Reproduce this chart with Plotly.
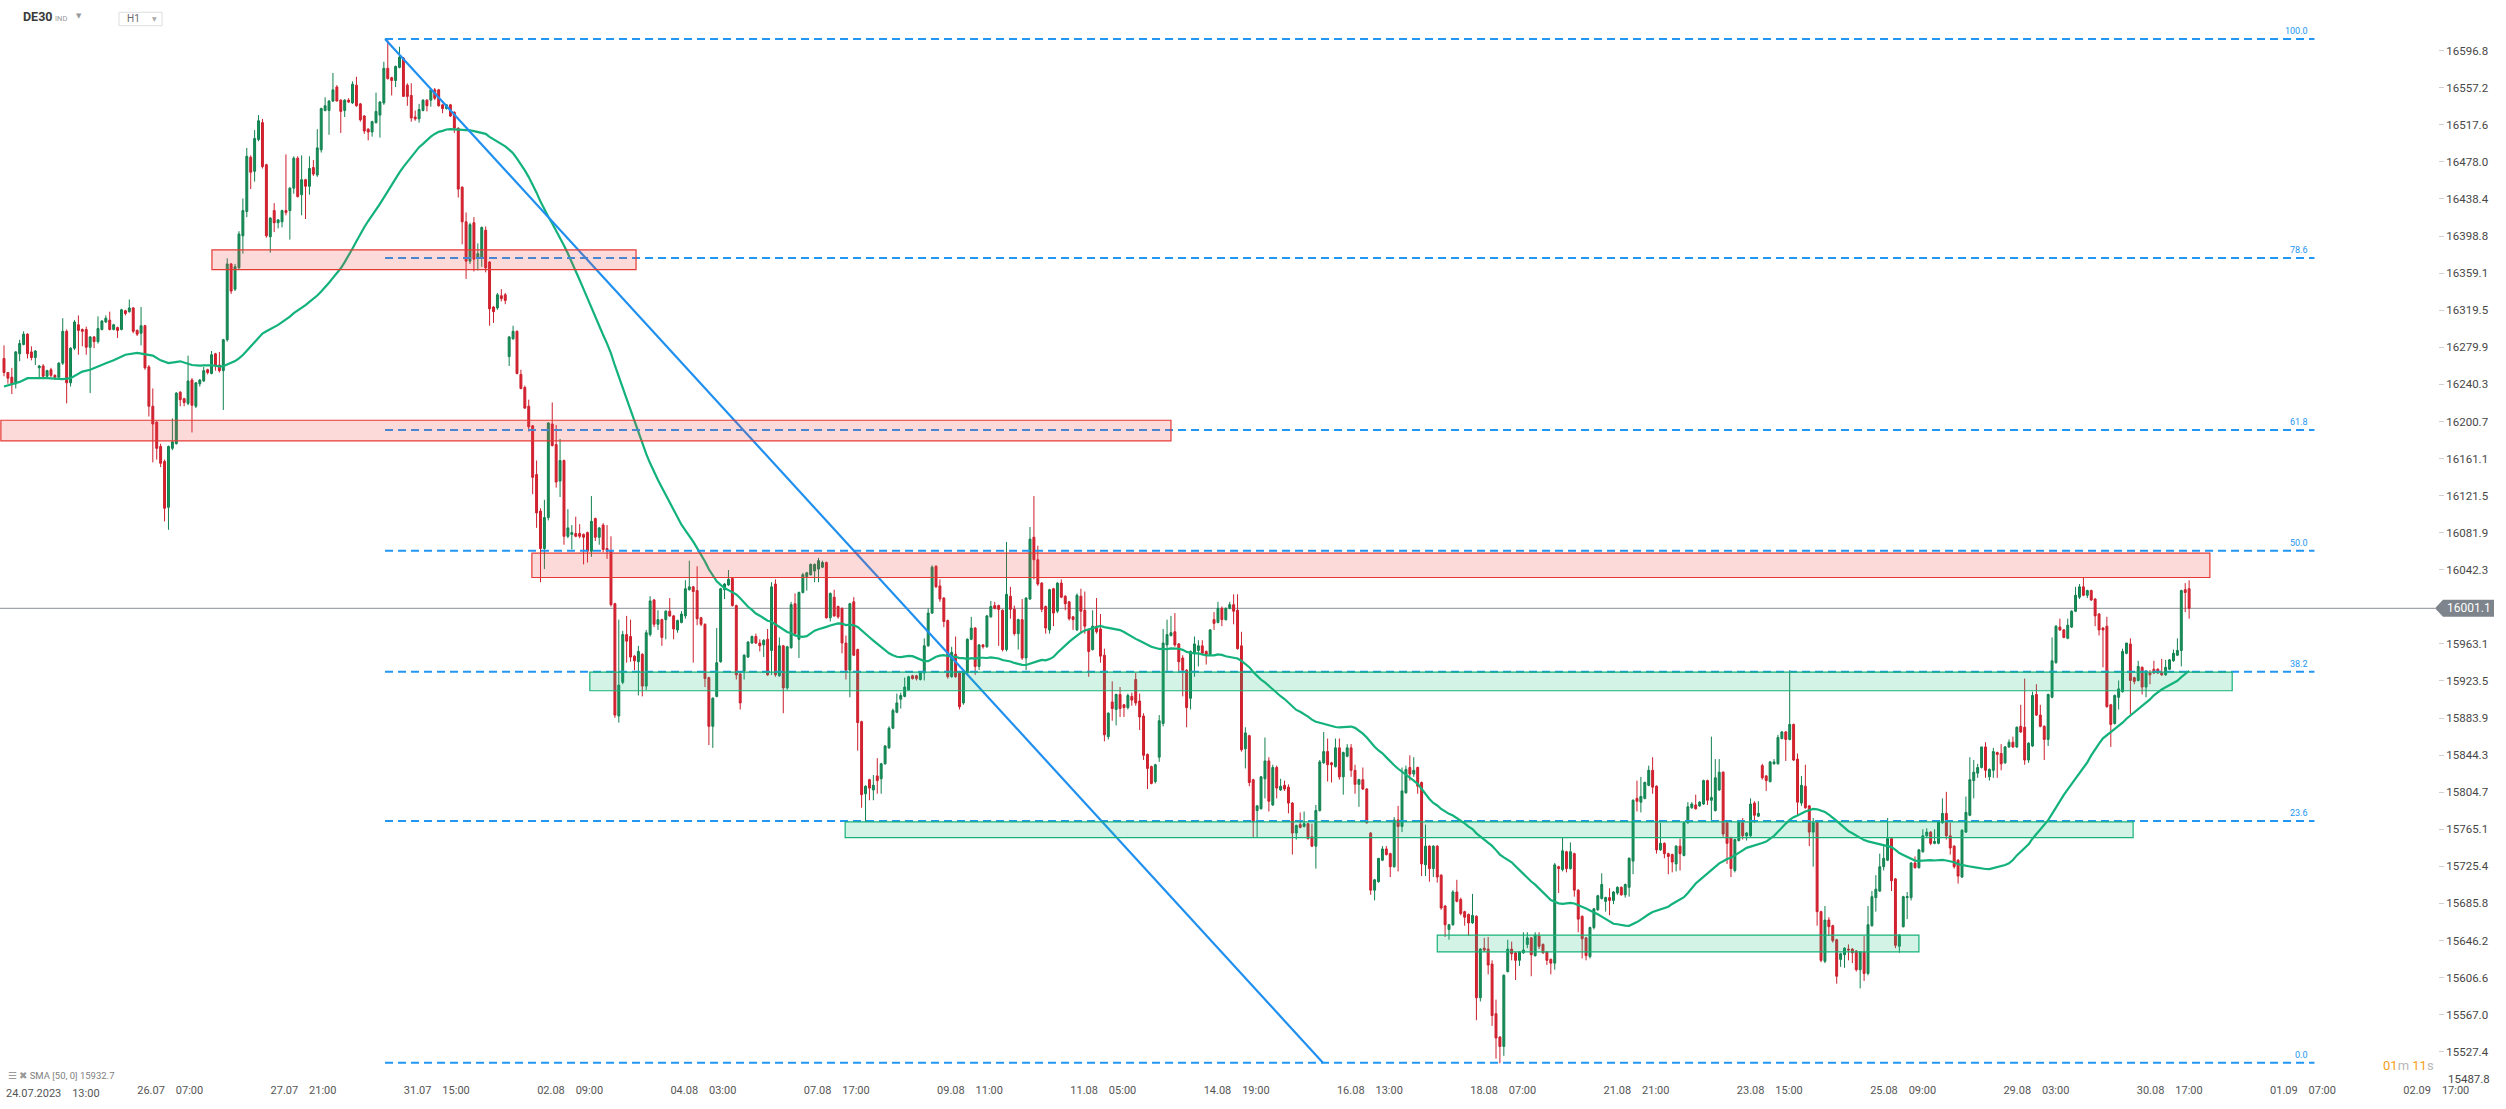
import pandas as pd
import plotly.graph_objects as go

# ---------------- data ----------------
opens = [
16268,16253,16248,16241,16273,16283,16294,16275,16269,16258,
16260,16249,16256,16250,16248,16263,16297,16242,16279,16304,
16299,16299,16280,16291,16286,16299,16307,16309,16299,16301,
16299,16319,16318,16322,16298,16295,16303,16259,16217,16200,
16174,16158,16109,16172,16177,16232,16225,16220,16245,16217,
16241,16244,16256,16252,16273,16261,16255,16288,16369,16342,
16365,16399,16425,16483,16468,16502,16520,16475,16398,16426,
16413,16414,16426,16426,16450,16482,16443,16459,16452,16472,
16464,16491,16533,16533,16543,16558,16544,16533,16544,16541,
16560,16540,16527,16513,16510,16520,16528,16541,16578,16568,
16565,16579,16589,16560,16549,16526,16524,16533,16544,16544,
16555,16555,16539,16535,16539,16531,16514,16451,16414,16372,
16413,16375,16376,16405,16371,16323,16322,16335,16336,16270,
16289,16297,16251,16237,16217,16196,16144,16105,16065,16098,
16198,16176,16137,16159,16078,16080,16081,16081,16080,16082,
16062,16097,16077,16090,16065,16062,16006,15886,15922,15973,
15971,15950,15944,15952,15918,15973,16010,15984,15989,15989,
15998,15993,15978,15986,15993,16021,16024,16020,15991,15984,
15927,15875,15907,15944,16021,16026,16033,16004,15931,15934,
15949,15964,15971,15964,15962,15968,15956,16027,15929,15961,
15916,15959,16006,15968,16018,16035,16037,16041,16043,16045,
16050,15991,16013,16003,16001,15964,15935,16008,15957,15880,
15803,15818,15807,15822,15819,15835,15852,15873,15890,15904,
15907,15914,15929,15929,15925,15932,15961,15996,16046,16025,
16012,15988,15928,15952,15933,15900,15932,15968,15980,15939,
15962,15960,15992,16004,16004,15999,15957,16014,16000,15974,
15989,15948,16011,16077,16053,16028,16003,15978,16022,15998,
16028,16014,16008,15992,15978,16014,15999,15978,15957,15982,
15979,15951,15864,15901,15893,15909,15898,15895,15907,15925,
15902,15886,15845,15832,15816,15842,15878,15962,15972,15976,
15963,15948,15935,15905,15953,15956,15961,15955,15952,15989,
15986,16001,15989,16001,16005,15999,15961,15851,15865,15818,
15785,15787,15819,15838,15791,15831,15807,15812,15810,15793,
15761,15770,15768,15771,15757,15747,15785,15836,15848,15836,
15832,15852,15821,15843,15852,15828,15813,15818,15808,15761,
15700,15709,15732,15744,15739,15725,15775,15768,15804,15831,
15824,15831,15815,15727,15747,15723,15747,15716,15683,15658,
15663,15698,15690,15677,15674,15665,15672,15585,15638,15637,
15621,15568,15543,15533,15613,15637,15633,15625,15633,15642,
15649,15630,15651,15642,15634,15626,15622,15725,15722,15741,
15723,15739,15700,15672,15649,15629,15660,15679,15691,15688,
15692,15689,15697,15703,15695,15703,15731,15798,15794,15798,
15812,15828,15811,15743,15750,15739,15738,15728,15747,15737,
15772,15788,15791,15790,15792,15817,15796,15785,15807,15826,
15772,15756,15721,15753,15772,15758,15758,15793,15779,15833,
15822,15816,15835,15835,15862,15869,15861,15877,15840,15793,
15811,15790,15762,15774,15677,15624,15668,15662,15647,15626,
15631,15637,15637,15635,15615,15634,15611,15662,15692,15699,
15725,15732,15755,15712,15640,15661,15692,15692,15729,15724,
15741,15758,15762,15750,15750,15772,15782,15758,15747,15732,
15714,15762,15780,15817,15825,15831,15853,15821,15828,15847,
15846,15836,15853,15858,15853,15875,15874,15839,15854,15909,
15887,15875,15861,15906,15943,15981,15978,15969,15981,15998,
16013,16024,16015,16020,16011,15995,15980,15982,15898,15878,
15906,15912,15953,15963,15927,15924,15938,15917,15932,15936,
15936,15932,15930,15936,15945,15951,15956,16021,16022]

highs = [
16282,16253,16258,16276,16288,16297,16295,16281,16277,16261,
16262,16256,16258,16251,16264,16311,16299,16280,16309,16314,
16300,16302,16292,16292,16313,16309,16314,16318,16305,16302,
16321,16320,16331,16323,16299,16323,16304,16261,16236,16201,
16177,16160,16175,16204,16232,16233,16226,16271,16247,16243,
16246,16259,16257,16276,16274,16275,16289,16375,16370,16369,
16404,16439,16493,16485,16512,16528,16524,16476,16419,16434,
16417,16427,16486,16451,16484,16484,16485,16460,16484,16480,
16513,16536,16547,16544,16573,16560,16545,16545,16546,16564,
16569,16541,16528,16514,16522,16552,16543,16585,16608,16569,
16581,16601,16590,16562,16562,16533,16540,16545,16545,16556,
16557,16556,16540,16540,16540,16532,16515,16452,16424,16413,
16419,16391,16409,16409,16372,16324,16338,16342,16338,16292,
16303,16298,16256,16239,16224,16197,16159,16108,16117,16200,
16221,16197,16182,16160,16107,16090,16099,16091,16081,16083,
16121,16098,16088,16092,16090,16078,16007,15989,15977,15993,
15989,15951,15961,15953,15978,16014,16011,15999,15990,15999,
16012,15994,15989,15998,16031,16052,16025,16046,15992,15985,
15928,15906,15980,16023,16028,16042,16034,16005,15932,15952,
15966,15972,15974,15968,15968,15979,16029,16032,15970,15962,
15961,16008,16017,16019,16039,16040,16049,16049,16055,16052,
16051,16018,16021,16004,16002,15972,16007,16013,15958,15881,
15812,15819,15823,15841,15836,15855,15875,15894,15910,15911,
15927,15929,15930,15930,15934,15969,16001,16047,16047,16032,
16013,15989,15960,15971,15934,15933,15969,15992,15981,15963,
15963,15994,16009,16008,16005,16000,16072,16024,16004,15990,
16011,16013,16088,16121,16068,16029,16004,16022,16023,16029,
16032,16015,16009,15993,16017,16022,16019,15979,15999,16012,
15995,15958,15890,15923,15910,15917,15899,15910,15911,15932,
15910,15889,15846,15833,15835,15887,15979,15989,15993,15996,
15964,15951,15936,15956,15971,15967,15967,15956,15979,15997,
16008,16003,16002,16008,16016,16016,15976,15874,15866,15819,
15791,15822,15863,15842,15834,15833,15819,15817,15813,15794,
15770,15783,15784,15772,15771,15791,15839,15869,15862,15837,
15862,15862,15848,15856,15856,15834,15819,15831,15809,15762,
15712,15734,15747,15747,15740,15778,15790,15831,15833,15844,
15842,15832,15816,15770,15748,15748,15748,15717,15684,15664,
15700,15711,15692,15678,15675,15696,15673,15638,15649,15650,
15625,15583,15544,15610,15647,15645,15634,15635,15655,15655,
15650,15655,15655,15643,15635,15627,15729,15726,15756,15742,
15751,15740,15701,15673,15650,15661,15681,15695,15718,15693,
15702,15699,15704,15704,15707,15735,15797,15817,15821,15816,
15833,15842,15812,15772,15751,15740,15739,15748,15755,15773,
15794,15794,15802,15795,15818,15818,15864,15840,15840,15827,
15773,15757,15755,15775,15777,15762,15798,15795,15795,15835,
15823,15838,15840,15866,15870,15870,15935,15878,15846,15822,
15834,15791,15777,15775,15678,15683,15671,15663,15648,15633,
15639,15642,15638,15636,15635,15651,15683,15699,15716,15739,
15748,15777,15756,15713,15653,15694,15698,15730,15736,15744,
15765,15766,15763,15765,15774,15798,15805,15772,15748,15733,
15765,15800,15842,15839,15835,15853,15858,15830,15852,15848,
15856,15854,15861,15864,15875,15898,15926,15858,15912,15920,
15898,15876,15910,15970,15983,15990,15979,15990,15999,16024,
16027,16034,16021,16021,16012,15996,15981,15992,15899,15909,
15924,15958,15964,15969,15928,15945,15939,15935,15935,15945,
15937,15947,15946,15947,15957,15969,16021,16028,16031]

lows = [
16249,16241,16230,16236,16265,16282,16268,16266,16261,16247,
16247,16247,16248,16245,16246,16261,16220,16238,16277,16272,
16281,16272,16231,16279,16284,16298,16306,16298,16298,16290,
16298,16314,16317,16295,16292,16282,16256,16206,16157,16160,
16152,16094,16085,16170,16176,16217,16217,16218,16189,16215,
16238,16243,16251,16251,16255,16253,16213,16286,16337,16340,
16363,16380,16419,16449,16457,16500,16471,16397,16381,16403,
16407,16408,16421,16395,16444,16440,16421,16417,16443,16463,
16462,16488,16532,16507,16542,16543,16509,16526,16541,16540,
16537,16521,16508,16501,16505,16519,16504,16539,16566,16549,
16558,16578,16548,16538,16521,16522,16520,16532,16532,16537,
16544,16537,16530,16534,16526,16509,16440,16390,16353,16369,
16361,16362,16366,16360,16303,16306,16320,16329,16326,16260,
16288,16251,16235,16214,16190,16123,16087,16029,16043,16095,
16174,16130,16120,16069,16076,16064,16077,16076,16048,16050,
16056,16073,16069,16061,16054,16003,15884,15879,15920,15943,
15944,15935,15908,15907,15914,15971,15981,15978,15961,15968,
15992,15968,15975,15985,15990,16020,15943,15983,15982,15917,
15855,15852,15906,15943,16011,16025,16003,15925,15893,15925,
15948,15963,15963,15955,15949,15929,15930,15928,15928,15889,
15914,15958,15973,15948,16017,16020,16036,16029,16029,16044,
15990,15987,15992,15990,15953,15925,15906,15950,15849,15788,
15773,15796,15796,15803,15803,15834,15851,15872,15889,15894,
15906,15913,15925,15924,15924,15924,15960,15995,16023,16008,
15981,15926,15927,15927,15893,15898,15930,15967,15930,15935,
15958,15959,15991,16000,15961,15955,15955,15990,15972,15957,
15946,15935,16010,16032,16025,15997,15974,15974,15982,15996,
16012,15999,15988,15978,15977,15974,15974,15928,15956,15974,
15943,15859,15861,15881,15876,15885,15885,15893,15897,15897,
15871,15839,15808,15813,15814,15837,15875,15934,15971,15960,
15932,15907,15874,15893,15928,15939,15951,15941,15951,15978,
15985,15982,15988,16000,15984,15957,15848,15830,15811,15756,
15756,15786,15798,15784,15790,15798,15806,15806,15782,15738,
15754,15766,15767,15754,15746,15723,15784,15835,15816,15815,
15831,15818,15802,15842,15821,15803,15789,15807,15771,15695,
15689,15708,15731,15737,15714,15724,15720,15762,15803,15817,
15821,15803,15715,15715,15709,15714,15708,15679,15650,15647,
15662,15687,15673,15662,15651,15664,15561,15581,15634,15610,
15555,15520,15515,15523,15612,15625,15604,15619,15632,15638,
15608,15629,15637,15632,15620,15610,15615,15697,15720,15719,
15722,15693,15655,15627,15625,15627,15658,15678,15690,15677,
15673,15685,15695,15694,15692,15693,15717,15784,15783,15797,
15811,15803,15739,15742,15734,15717,15719,15720,15721,15736,
15771,15787,15786,15789,15791,15791,15774,15784,15806,15757,
15728,15714,15719,15752,15754,15753,15757,15772,15778,15818,
15806,15815,15834,15834,15861,15838,15860,15838,15780,15790,
15787,15747,15725,15662,15623,15622,15651,15644,15600,15618,
15617,15625,15622,15613,15595,15603,15609,15661,15677,15698,
15721,15731,15699,15638,15633,15660,15669,15689,15723,15723,
15740,15757,15748,15749,15749,15771,15754,15738,15723,15707,
15713,15761,15779,15798,15820,15830,15820,15817,15820,15820,
15828,15835,15852,15852,15852,15868,15834,15836,15853,15886,
15874,15839,15854,15905,15942,15977,15969,15968,15980,15997,
16011,16014,16012,16009,15982,15972,15938,15895,15853,15877,
15893,15911,15952,15888,15920,15923,15909,15906,15920,15931,
15931,15929,15929,15935,15944,15950,15939,15997,15990]

closes = [
16253,16247,16240,16275,16284,16294,16273,16269,16276,16260,
16249,16255,16250,16248,16263,16297,16242,16279,16307,16298,
16297,16280,16291,16286,16300,16308,16311,16299,16304,16298,
16320,16316,16322,16297,16294,16303,16258,16217,16198,16172,
16156,16108,16174,16179,16231,16224,16221,16244,16218,16242,
16245,16255,16253,16272,16260,16255,16288,16369,16340,16366,
16401,16426,16484,16467,16503,16522,16473,16399,16418,16413,
16416,16426,16424,16450,16482,16441,16459,16452,16471,16465,
16493,16535,16538,16543,16555,16543,16532,16544,16542,16561,
16538,16523,16511,16510,16521,16532,16542,16578,16567,16565,
16580,16590,16548,16548,16525,16524,16534,16544,16538,16555,
16546,16538,16535,16539,16527,16514,16449,16414,16372,16411,
16374,16380,16408,16365,16321,16318,16336,16332,16330,16291,
16297,16252,16236,16215,16195,16141,16103,16065,16098,16199,
16175,16136,16159,16078,16087,16082,16078,16078,16077,16062,
16094,16077,16087,16064,16062,16005,15887,15919,15973,15966,
15949,15945,15955,15918,15975,16009,15984,15989,15970,15998,
15993,15979,15988,15995,16022,16024,16019,15990,15984,15926,
15875,15905,15943,16022,16027,16032,16004,15930,15900,15951,
15965,15971,15964,15961,15967,15930,16024,15930,15961,15916,
15960,16005,15974,16018,16037,16039,16048,16048,16052,16050,
15991,16017,15993,15992,15964,15935,16006,15951,15879,15802,
15811,15809,15812,15817,15835,15854,15873,15892,15900,15908,
15917,15928,15926,15926,15933,15961,15996,16045,16024,16011,
15987,15928,15954,15928,15896,15932,15968,15980,15939,15962,
15960,15993,16003,16001,16000,15957,16016,16000,15974,15989,
15948,16012,16075,16053,16027,16000,15980,16021,15996,16028,
16013,16006,15990,15989,16015,15998,15982,15955,15982,15976,
15950,15866,15889,15894,15909,15894,15895,15908,15903,15900,
15885,15844,15830,15814,15834,15881,15964,15973,15975,15962,
15944,15935,15895,15955,15963,15961,15953,15952,15978,15985,
16001,15989,16001,16005,15998,15958,15850,15868,15815,15773,
15790,15821,15838,15795,15831,15809,15811,15808,15793,15761,
15769,15767,15771,15755,15747,15785,15837,15848,15834,15834,
15852,15821,15847,15852,15828,15813,15818,15808,15772,15700,
15711,15734,15744,15738,15725,15775,15768,15806,15829,15824,
15828,15811,15728,15747,15723,15747,15714,15681,15663,15663,
15698,15688,15675,15671,15665,15673,15585,15637,15636,15620,
15566,15542,15533,15609,15637,15632,15625,15634,15636,15649,
15631,15652,15640,15633,15625,15622,15727,15723,15742,15723,
15741,15700,15669,15648,15630,15660,15680,15694,15706,15692,
15689,15698,15703,15695,15706,15734,15796,15795,15800,15815,
15828,15810,15743,15750,15739,15736,15730,15747,15739,15772,
15789,15792,15787,15794,15817,15796,15799,15820,15826,15760,
15750,15723,15754,15773,15758,15761,15792,15780,15782,15820,
15817,15837,15837,15863,15869,15861,15877,15839,15794,15812,
15788,15762,15772,15677,15625,15668,15661,15646,15608,15632,
15638,15636,15633,15615,15634,15611,15663,15693,15701,15725,
15734,15755,15710,15641,15652,15693,15693,15729,15724,15743,
15758,15762,15750,15752,15773,15782,15758,15745,15725,15715,
15764,15783,15818,15826,15831,15853,15828,15829,15848,15845,
15835,15853,15858,15853,15874,15869,15839,15857,15908,15887,
15875,15861,15909,15945,15982,15978,15970,15983,15998,16015,
16024,16015,16020,16010,15993,15978,15978,15896,15877,15908,
15915,15955,15964,15924,15923,15939,15917,15934,15930,15932,
15932,15930,15938,15946,15953,15956,16020,16018,16001.1]

# SMA(50) as drawn at the left edge, before 50 visible candles exist
sma_head_x = [0, 4, 6, 11, 15, 17, 20, 22, 26, 28, 31, 34, 38, 40, 42, 45, 48]
sma_head_y = [16238, 16243, 16247, 16247, 16246, 16247, 16254, 16256, 16263,
              16266, 16272, 16274, 16271, 16266, 16263, 16265, 16261]
sma_period = 50

time_labels = ["24.07.2023", "26.07", "27.07", "31.07", "02.08", "04.08", "07.08",
               "09.08", "11.08", "14.08", "16.08", "18.08", "21.08", "23.08",
               "25.08", "29.08", "30.08", "01.09", "02.09"]
time_hours = ["13:00", "07:00", "21:00", "15:00", "09:00", "03:00", "17:00",
              "11:00", "05:00", "19:00", "13:00", "07:00", "21:00", "15:00",
              "09:00", "03:00", "17:00", "07:00", "17:00"]
label_first_bar = 8.40     # candle index of first time label
label_step_bars = 34.04    # candles between time labels

price_ticks = [16596.8, 16557.2, 16517.6, 16478.0, 16438.4, 16398.8, 16359.1,
               16319.5, 16279.9, 16240.3, 16200.7, 16161.1, 16121.5, 16081.9,
               16042.3, 15963.1, 15923.5, 15883.9, 15844.3, 15804.7, 15765.1,
               15725.4, 15685.8, 15646.2, 15606.6, 15567.0, 15527.4]
price_bottom_label = 15487.8   # clamped above the time axis in the original

last_price = 16001.1
fib_high, fib_low = 16609.4, 15515.6
fib_levels = [100.0, 78.6, 61.8, 50.0, 38.2, 23.6, 0.0]
fib_from_bar, fib_to_bar = 97.3, 590.0
trend_from = (97.3, 16609.4)
trend_to = (336.8, 15515.6)
red_zones = [(53.1, 161.4, 16363, 16384), (-0.8, 298.0, 16180, 16202),
             (134.8, 563.3, 16034, 16060)]
green_zones = [(149.6, 569.0, 15913, 15933), (214.8, 543.7, 15756, 15773),
               (366.0, 489.0, 15634, 15652)]

# ---------------- geometry ----------------
W, H = 2506, 1109
R_MARGIN = 68
PLOT_W = W - R_MARGIN
PLOT_H = H
BAR_PX = 3.916
BAR0_PX = 4.0
PT_PX = 0.936
LAST_PX = 608.3

x_range = [(0 - BAR0_PX) / BAR_PX, (PLOT_W - BAR0_PX) / BAR_PX]
y_top = last_price + LAST_PX / PT_PX
y_bot = last_price - (PLOT_H - LAST_PX) / PT_PX


def fx(px):
    return px / PLOT_W


def fy(py):
    return 1 - py / PLOT_H


n = min(len(opens), len(highs), len(lows), len(closes))
idx = list(range(n))
sma_full = pd.Series(closes[:n]).rolling(sma_period).mean()
sma_x = sma_head_x + idx[sma_period - 1:]
sma_y = sma_head_y + list(sma_full.iloc[sma_period - 1:])

fig = go.Figure()
fig.add_trace(go.Candlestick(
    x=idx, open=opens[:n], high=highs[:n], low=lows[:n], close=closes[:n],
    increasing=dict(line=dict(color="#12814f", width=1), fillcolor="#17905b"),
    decreasing=dict(line=dict(color="#cc1f2d", width=1), fillcolor="#d9232f"),
    whiskerwidth=0, hoverinfo="skip", showlegend=False))
fig.add_trace(go.Scatter(
    x=sma_x, y=sma_y, mode="lines", line=dict(color="#12b27a", width=2.2),
    hoverinfo="skip", showlegend=False))

shapes = []
# last price line
shapes.append(dict(type="line", xref="paper", yref="y", x0=0, x1=fx(2435),
                   y0=last_price, y1=last_price, line=dict(color="#8a9098", width=1),
                   layer="below"))
# fibonacci lines
fib_prices = [fib_low + lv / 100.0 * (fib_high - fib_low) for lv in fib_levels]
for p in fib_prices:
    shapes.append(dict(type="line", xref="x", yref="y", x0=fib_from_bar, x1=fib_to_bar,
                       y0=p, y1=p, line=dict(color="#2196F3", width=2, dash="8px,5px"),
                       layer="above"))
# trend line
shapes.append(dict(type="line", xref="x", yref="y", x0=trend_from[0], y0=trend_from[1],
                   x1=trend_to[0], y1=trend_to[1], line=dict(color="#2090f0", width=2.2),
                   layer="above"))
for (a, b, lo, hi) in red_zones:
    shapes.append(dict(type="rect", xref="x", yref="y", x0=a, x1=b, y0=lo, y1=hi,
                       fillcolor="rgba(240,70,70,0.20)", line=dict(color="#e53935", width=1.2),
                       layer="above"))
for (a, b, lo, hi) in green_zones:
    shapes.append(dict(type="rect", xref="x", yref="y", x0=a, x1=b, y0=lo, y1=hi,
                       fillcolor="rgba(20,190,125,0.19)", line=dict(color="#16b27a", width=1.2),
                       layer="above"))
# price tag
tag_h = 8.5
shapes.append(dict(type="path", xref="paper", yref="paper",
                   path=(f"M {fx(2435)},{fy(LAST_PX)} L {fx(2443)},{fy(LAST_PX - tag_h)} "
                         f"L {fx(2494)},{fy(LAST_PX - tag_h)} L {fx(2494)},{fy(LAST_PX + tag_h)} "
                         f"L {fx(2443)},{fy(LAST_PX + tag_h)} Z"),
                   fillcolor="#7d848c", line=dict(width=0), layer="above"))
# H1 selector box
shapes.append(dict(type="rect", xref="paper", yref="paper", x0=fx(119), x1=fx(162),
                   y0=fy(25.7), y1=fy(12.3), line=dict(color="#dedede", width=1),
                   fillcolor="white", layer="above"))

ann = []
for lv, p in zip(fib_levels, fib_prices):
    ann.append(dict(x=fib_to_bar, y=p, xref="x", yref="y", text=f"{lv:.1f}",
                    showarrow=False, xanchor="right", yanchor="bottom", xshift=-4, yshift=1,
                    font=dict(size=9, color="#2196F3", family="Roboto")))
ann.append(dict(x=fx(2468.5), y=fy(LAST_PX), xref="paper", yref="paper",
                text=f"{last_price:.1f}", showarrow=False, xanchor="center", yanchor="middle",
                font=dict(size=12, color="white", family="Roboto")))
ann.append(dict(x=fx(2446), y=fy(1079), xref="paper", yref="paper",
                text=f"{price_bottom_label:.1f}", showarrow=False, xanchor="left",
                yanchor="middle", font=dict(size=11.5, color="#474747", family="Roboto")))
ann.append(dict(x=fx(20.5), y=fy(17), xref="paper", yref="paper", text="<b>DE30</b>",
                showarrow=False, xanchor="left", yanchor="middle",
                font=dict(size=12.5, color="#3a3a3a", family="Roboto")))
ann.append(dict(x=fx(52.5), y=fy(18.5), xref="paper", yref="paper", text="IND",
                showarrow=False, xanchor="left", yanchor="middle",
                font=dict(size=7.5, color="#9a9a9a", family="Roboto")))
ann.append(dict(x=fx(79), y=fy(15.5), xref="paper", yref="paper", text="▼",
                showarrow=False, xanchor="center", yanchor="middle",
                font=dict(size=7, color="#9a9a9a", family="DejaVu Sans")))
ann.append(dict(x=fx(125), y=fy(19), xref="paper", yref="paper", text="H1",
                showarrow=False, xanchor="left", yanchor="middle",
                font=dict(size=10, color="#6a6a6a", family="Roboto")))
ann.append(dict(x=fx(154), y=fy(18.5), xref="paper", yref="paper", text="▼",
                showarrow=False, xanchor="center", yanchor="middle",
                font=dict(size=6, color="#a8a8a8", family="DejaVu Sans")))
ann.append(dict(x=fx(6), y=fy(1075), xref="paper", yref="paper",
                text=('<span style="color:#9a9a9a">☰ ✖</span> '
                      '<span style="color:#808080">SMA [50, 0] 15932.7</span>'),
                showarrow=False, xanchor="left", yanchor="middle",
                font=dict(size=9.5, family="Roboto")))
ann.append(dict(x=fx(2381), y=fy(1065), xref="paper", yref="paper",
                text=('<span style="color:#f5a01a">01</span><span style="color:#b8b8b8">m </span>'
                      '<span style="color:#f5a01a">11</span><span style="color:#b8b8b8">s</span>'),
                showarrow=False, xanchor="left", yanchor="middle",
                font=dict(size=13, family="Roboto")))

sp = "\u00a0\u00a0\u00a0\u00a0"
tickvals = [label_first_bar + k * label_step_bars for k in range(len(time_labels))]
ticktext = [d + sp + h for d, h in zip(time_labels, time_hours)]
# first label is pushed right to stay inside the window
ann.append(dict(x=fx(4), y=fy(1093), xref="paper", yref="paper", text=ticktext[0],
                showarrow=False, xanchor="left", yanchor="middle",
                font=dict(size=11, color="#555555", family="Roboto")))
ticktext = [""] + ticktext[1:]

fig.update_layout(
    width=W, height=H, margin=dict(l=0, r=R_MARGIN, t=0, b=0),
    paper_bgcolor="white", plot_bgcolor="white",
    font=dict(family="Roboto", color="#4a4a4a"),
    shapes=shapes, annotations=ann, showlegend=False,
    xaxis=dict(range=x_range, anchor="free", position=1 - 1082 / PLOT_H,
               tickvals=tickvals, ticktext=ticktext, ticks="", showgrid=False,
               zeroline=False, showline=False, tickfont=dict(size=11, color="#555555"),
               rangeslider=dict(visible=False), fixedrange=True),
    yaxis=dict(range=[y_bot, y_top], side="right", tickvals=price_ticks,
               ticktext=[f"{v:.1f}" for v in price_ticks], ticks="outside", ticklen=5,
               tickcolor="#d0d0d0", tickwidth=1, showgrid=False, zeroline=False,
               showline=False, tickfont=dict(size=11.5, color="#474747"), fixedrange=True),
)

# place the figure at the window's top-left corner (no default page margin), no modebar
fig.write_html("out.html", config={"displayModeBar": False},
               post_script="document.body.style.margin='0px';")
